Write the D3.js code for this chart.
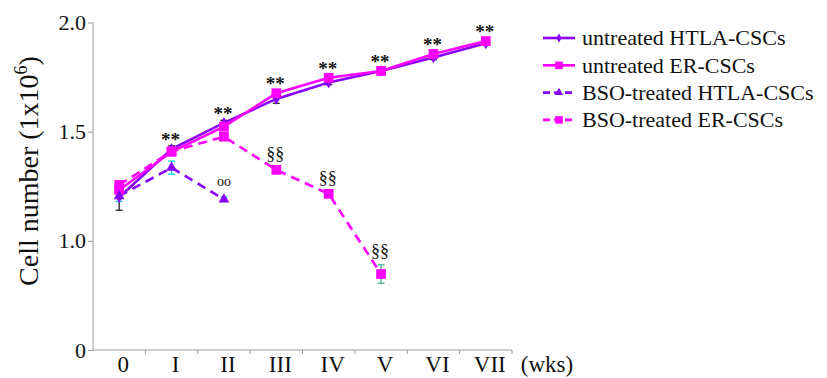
<!DOCTYPE html>
<html lang="en">
<head>
<meta charset="UTF-8">
<title>Cell number</title>
<script src="https://d3js.org/d3.v7.min.js"></script>
<style>
  body { margin: 0; background: #fff; }
  svg text { font-family: "Liberation Serif", "Tinos", "Nimbus Roman", "Times", "DejaVu Serif", serif; fill: #111; }
</style>
</head>
<body>
<svg id="chart" width="827" height="378"></svg>
<script>
// weeks
var weeks = ["0", "I", "II", "III", "IV", "V", "VI", "VII"];

// means (1x10^6 cells)
var untreatedHTLA = [1.20, 1.42, 1.54, 1.65, 1.725, 1.778, 1.84, 1.905];
var untreatedER   = [1.233, 1.408, 1.523, 1.676, 1.747, 1.778, 1.856, 1.915];
var bsoHTLA       = [1.205, 1.335, 1.19];
var bsoER         = [1.256, 1.41, 1.477, 1.325, 1.215, 0.848];

// error bars
var untreatedHTLAerr = [0.06, 0.015, 0.012, 0.02, 0.01, 0.008, 0.01, 0.008];
var untreatedERerr   = [0.01, 0.01, 0.01, 0.01, 0.01, 0.01, 0.01, 0.01];
var bsoHTLAerr       = [0.025, 0.03, 0.01];
var bsoERerr         = [0.01, 0.01, 0.01, 0.01, 0.01, 0.042];

// significance marks
var starMarks  = ["", "**", "**", "**", "**", "**", "**", "**"];
var circMarks  = ["", "", "oo"];
var sectMarks  = ["", "", "", "§§", "§§", "§§"];

// y axis (broken: "0" sits at the bottom of the axis)
var yTicks = [0.5, 1.0, 1.5, 2.0];
var yTickLabels = ["0", "1.0", "1.5", "2.0"];

var legendNames = ["untreated HTLA-CSCs", "untreated ER-CSCs", "BSO-treated HTLA-CSCs", "BSO-treated ER-CSCs"];

var purple = "#8a00ff", magenta = "#ff00ff";
var serif = "'Liberation Serif', Tinos, 'Nimbus Roman', Times, 'DejaVu Serif', serif";

var series = [
  {name: legendNames[0], vals: untreatedHTLA, err: untreatedHTLAerr, color: purple, dash: null, shape: d3.symbolDiamond, size: 40, errColor: "#222"},
  {name: legendNames[1], vals: untreatedER, err: untreatedERerr, color: magenta, dash: null, shape: d3.symbolSquare, size: 95, errColor: magenta},
  {name: legendNames[2], vals: bsoHTLA, err: bsoHTLAerr, color: purple, dash: "9,6", shape: d3.symbolTriangle, size: 50, errColor: "#10d0e0"},
  {name: legendNames[3], vals: bsoER, err: bsoERerr, color: magenta, dash: "9,6", shape: d3.symbolSquare, size: 95, errColor: "#3cb38a"}
];

var svg = d3.select("#chart");

var x = d3.scaleBand().domain(weeks).range([93, 512]).padding(0);
var y = d3.scaleLinear().domain([0.5, 2.0]).range([350, 22.5]);
function cx(i) { return x(weeks[i]) + x.bandwidth() / 2; }

// axes
var yAxis = d3.axisLeft(y).tickValues(yTicks)
  .tickFormat(function(d, i) { return yTickLabels[i]; })
  .tickSize(5).tickPadding(2);
var gy = svg.append("g").attr("transform", "translate(93,0)").call(yAxis);
gy.attr("font-family", null);
gy.select(".domain").attr("stroke", "#999").attr("d", "M0,22.5V350");
gy.selectAll(".tick line").attr("stroke", "#999");
gy.selectAll(".tick text").style("font-family", serif).style("font-size", "22px").attr("fill", "#111");

var xAxis = d3.axisBottom(x).tickSize(0).tickPadding(6);
var gx = svg.append("g").attr("transform", "translate(0,350)").call(xAxis);
gx.attr("font-family", null);
gx.select(".domain").attr("stroke", "#999").attr("d", "M93,0H512");
gx.selectAll(".tick text").attr("dx", 4).style("font-family", serif).style("font-size", "23px").attr("fill", "#111");
gx.selectAll(".bnd").data(weeks).enter().append("line")
  .attr("x1", function(d) { return x(d) + x.bandwidth(); })
  .attr("x2", function(d) { return x(d) + x.bandwidth(); })
  .attr("y1", 0).attr("y2", 4).attr("stroke", "#999");

svg.append("text").attr("x", 547).attr("y", 372).attr("text-anchor", "middle")
  .style("font-size", "23px").text("(wks)");

var yt = svg.append("text").attr("transform", "translate(38,171) rotate(-90)")
  .attr("text-anchor", "middle").style("font-size", "28px");
yt.append("tspan").text("Cell number (1x10");
yt.append("tspan").attr("dy", -11).style("font-size", "18px").text("6");
yt.append("tspan").attr("dy", 11).text(")");

// error bars
series.forEach(function(s) {
  var g = svg.append("g");
  s.vals.forEach(function(v, i) {
    var e = s.err[i], px = cx(i);
    g.append("line").attr("x1", px).attr("x2", px).attr("y1", y(v - e)).attr("y2", y(v + e)).attr("stroke", s.errColor).attr("stroke-width", 1.3);
    [v - e, v + e].forEach(function(w) {
      g.append("line").attr("x1", px - 3.5).attr("x2", px + 3.5).attr("y1", y(w)).attr("y2", y(w)).attr("stroke", s.errColor).attr("stroke-width", 1.3);
    });
  });
});

// lines
var line = d3.line().x(function(d, i) { return cx(i); }).y(function(d) { return y(d); });
series.forEach(function(s) {
  svg.append("path").datum(s.vals).attr("d", line)
    .attr("fill", "none").attr("stroke", s.color).attr("stroke-width", 2.6)
    .attr("stroke-dasharray", s.dash);
});

// markers
series.forEach(function(s) {
  svg.selectAll(null).data(s.vals).enter().append("path")
    .attr("d", d3.symbol().type(s.shape).size(s.size))
    .attr("transform", function(d, i) { return "translate(" + cx(i) + "," + y(d) + ")"; })
    .attr("fill", s.color);
});

// significance labels
svg.selectAll(null).data(starMarks).enter().append("text")
  .attr("x", function(d, i) { return cx(i) - 1; })
  .attr("y", function(d, i) { return y(Math.max(untreatedHTLA[i], untreatedER[i])) - 3; })
  .attr("text-anchor", "middle").style("font-size", "19px").style("font-weight", "bold")
  .text(function(d) { return d; });

svg.selectAll(null).data(circMarks).enter().append("text")
  .attr("x", function(d, i) { return cx(i); })
  .attr("y", function(d, i) { return y(bsoHTLA[i]) - 13; })
  .attr("text-anchor", "middle").style("font-size", "14px")
  .text(function(d) { return d; });

svg.selectAll(null).data(sectMarks).enter().append("text")
  .attr("x", function(d, i) { return cx(i) - 1; })
  .attr("y", function(d, i) { return y(bsoER[i] + bsoERerr[i]) - 8; })
  .attr("text-anchor", "middle").style("font-size", "18px")
  .text(function(d) { return d; });

// legend
var leg = svg.append("g").selectAll("g").data(series).enter().append("g")
  .attr("transform", function(d, i) { return "translate(543," + (38 + i * 27.3) + ")"; });
leg.append("line").attr("x1", 0).attr("x2", 32).attr("y1", 0).attr("y2", 0)
  .attr("stroke", function(d) { return d.color; }).attr("stroke-width", 2.6)
  .attr("stroke-dasharray", function(d) { return d.dash ? "7,4" : null; });
leg.append("path").attr("transform", "translate(16,0)")
  .attr("d", function(d) { return d3.symbol().type(d.shape).size(d.size * 0.6)(); })
  .attr("fill", function(d) { return d.color; });
leg.append("text").attr("x", 39).attr("dy", "0.33em").style("font-size", "22px")
  .text(function(d) { return d.name; });
</script>
</body>
</html>
